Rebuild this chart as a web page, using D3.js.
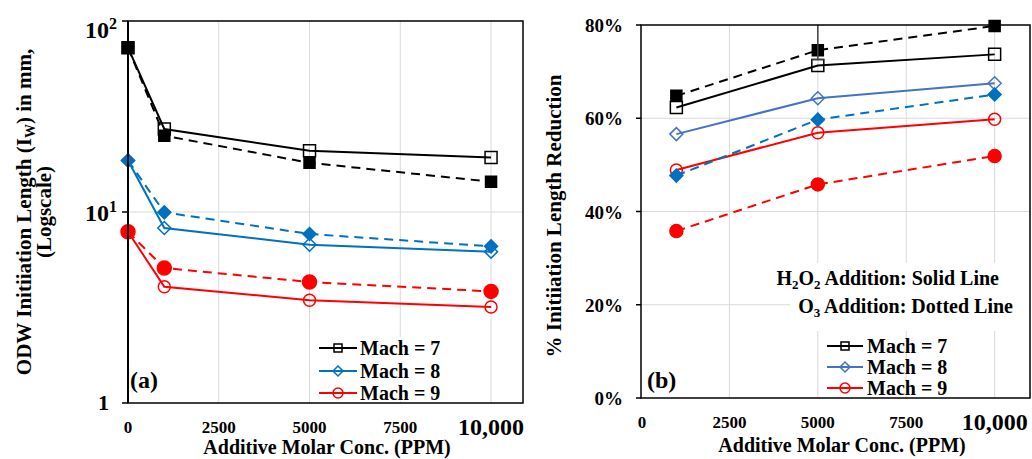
<!DOCTYPE html>
<html>
<head>
<meta charset="utf-8">
<script src="https://cdn.jsdelivr.net/npm/d3@7"></script>
<style>
html,body{margin:0;padding:0;background:#fff;}
svg{display:block;}
text{font-family:"Liberation Serif","Times New Roman",serif;font-weight:bold;fill:#000;}
</style>
</head>
<body>
<svg id="chart" width="1032" height="459"></svg>
<script>
// ---------------- DATA ----------------
const concA = [0, 1000, 5000, 10000];
const m7H2O2 = [72.5, 27.2, 20.9, 19.3];
const m7O3   = [72.5, 25.1, 18.1, 14.4];
const m8H2O2 = [18.6, 8.25, 6.74, 6.2];
const m8O3   = [18.6, 9.96, 7.67, 6.61];
const m9H2O2 = [7.88, 4.06, 3.45, 3.18];
const m9O3   = [7.88, 5.09, 4.30, 3.84];

const concB = [1000, 5000, 10000];
const r7H2O2 = [0.623, 0.713, 0.737];
const r7O3   = [0.648, 0.746, 0.798];
const r8H2O2 = [0.566, 0.643, 0.675];
const r8O3   = [0.477, 0.597, 0.651];
const r9H2O2 = [0.489, 0.569, 0.598];
const r9O3   = [0.358, 0.458, 0.519];
const r7O3ErrLow  = [null, 0.726, null];
const r7O3ErrHigh = [null, 0.86, null];

const xTicks = [0, 2500, 5000, 7500, 10000];
const xTickLabels = ["0", "2500", "5000", "7500", "10,000"];
const yTicksA = [1, 10, 100];
const yTicksB = [0, 0.2, 0.4, 0.6, 0.8];
const yTickLabelsB = ["0%", "20%", "40%", "60%", "80%"];
const legendLabels = ["Mach = 7", "Mach = 8", "Mach = 9"];

// ---------------- SETUP ----------------
const svg = d3.select("#chart");
const BLACK = "#000000", BLUE = "#0070C0", BLUE2 = "#4472C4", RED = "#FF0000", GRID = "#d9d9d9";

const xA = d3.scaleLinear().domain([0, 10880]).range([128, 523]);
const yA = d3.scaleLog().domain([1, 100]).range([403, 21]);
const xB = d3.scaleLinear().domain([0, 11000]).range([641, 1030]);
const yB = d3.scaleLinear().domain([0, 0.8]).range([398, 25]);

function markerPath(type, size) {
  const s = size;
  if (type === "square") return `M${-s/2},${-s/2}h${s}v${s}h${-s}Z`;
  if (type === "diamond") return `M0,${-s/2}L${s/2},0L0,${s/2}L${-s/2},0Z`;
  const p = d3.path(); p.arc(0, 0, s/2, 0, 2*Math.PI); p.closePath(); return p.toString();
}

function drawSeries(g, xs, ys, xScale, yScale, color, dashed, marker, filled, size) {
  const pts = xs.map((x, i) => [xScale(x), yScale(ys[i])]);
  g.append("path")
    .attr("d", d3.line()(pts))
    .attr("fill", "none")
    .attr("stroke", color)
    .attr("stroke-width", 2)
    .attr("stroke-dasharray", dashed ? "9,6" : null);
  g.selectAll(null).data(pts).enter().append("path")
    .attr("transform", d => `translate(${d[0]},${d[1]})`)
    .attr("d", markerPath(marker, size))
    .attr("fill", filled ? color : "none")
    .attr("stroke", color)
    .attr("stroke-width", 1.5);
}

// ================= PANEL A =================
const gA = svg.append("g");
gA.selectAll(null).data(xTicks.filter(d => d > 0)).enter().append("line")
  .attr("x1", d => xA(d)).attr("x2", d => xA(d)).attr("y1", yA(100)).attr("y2", yA(1))
  .attr("stroke", GRID).attr("stroke-width", 1);
gA.append("line").attr("x1", xA(0)).attr("x2", xA.range()[1]).attr("y1", yA(10)).attr("y2", yA(10))
  .attr("stroke", GRID).attr("stroke-width", 1);
gA.append("rect").attr("x", 316).attr("y", 337).attr("width", 128).attr("height", 64).attr("fill", "#fff");

const seriesA = [
  {y: m7H2O2, c: BLACK, d: false, m: "square", f: false, s: 12},
  {y: m8H2O2, c: BLUE, d: false, m: "diamond", f: false, s: 13},
  {y: m9H2O2, c: RED, d: false, m: "circle", f: false, s: 12},
  {y: m7O3, c: BLACK, d: true, m: "square", f: true, s: 11},
  {y: m8O3, c: BLUE, d: true, m: "diamond", f: true, s: 13},
  {y: m9O3, c: RED, d: true, m: "circle", f: true, s: 14},
];
seriesA.forEach(s => drawSeries(gA, concA, s.y, xA, yA, s.c, s.d, s.m, s.f, s.s));

gA.append("rect").attr("x", xA.range()[0]).attr("y", yA(100))
  .attr("width", xA.range()[1] - xA.range()[0]).attr("height", yA(1) - yA(100))
  .attr("fill", "none").attr("stroke", BLACK).attr("stroke-width", 1.5);
gA.append("line").attr("x1", xA(0)).attr("x2", xA(0)).attr("y1", yA(100)).attr("y2", yA(1))
  .attr("stroke", BLACK).attr("stroke-width", 2);

gA.selectAll(null).data(yTicksA).enter().append("line")
  .attr("x1", xA(0) - 6).attr("x2", xA(0)).attr("y1", d => yA(d)).attr("y2", d => yA(d))
  .attr("stroke", BLACK).attr("stroke-width", 1.5);
yTicksA.forEach(v => {
  const e = Math.round(Math.log10(v));
  const yy = yA(v);
  if (e === 0) {
    gA.append("text").attr("x", 109).attr("y", yy + 7).attr("text-anchor", "end")
      .style("font-size", "22px").text("1");
  } else {
    const t = gA.append("text").attr("x", 117).attr("y", e === 2 ? yy + 17 : yy + 9)
      .attr("text-anchor", "end").style("font-size", "24px");
    t.append("tspan").text("10");
    t.append("tspan").attr("dy", -9).style("font-size", "16px").text(String(e));
  }
});

xTicks.forEach((v, i) => {
  const big = v === 10000;
  gA.append("text").attr("x", xA(v)).attr("y", big ? 435 : 433)
    .attr("text-anchor", "middle").style("font-size", big ? "24px" : "17px")
    .text(xTickLabels[i]);
});

gA.append("text").attr("x", 327).attr("y", 454).attr("text-anchor", "middle")
  .style("font-size", "20px").text("Additive Molar Conc. (PPM)");
const ytA = gA.append("text").attr("transform", "translate(31,212) rotate(-90)")
  .attr("text-anchor", "middle").style("font-size", "21px");
ytA.append("tspan").text("ODW Initiiation Length (I");
ytA.append("tspan").attr("dy", 4).style("font-size", "14px").text("W");
ytA.append("tspan").attr("dy", -4).text(") in mm,");
gA.append("text").attr("transform", "translate(51,212) rotate(-90)")
  .attr("text-anchor", "middle").style("font-size", "21px").text("(Logscale)");

gA.append("text").attr("x", 130).attr("y", 388).style("font-size", "24px").text("(a)");

const legA = [{c: BLACK, m: "square", s: 8}, {c: BLUE, m: "diamond", s: 10}, {c: RED, m: "circle", s: 10}];
const legAy = [348, 371, 393];
legA.forEach((l, i) => {
  const y = legAy[i];
  gA.append("line").attr("x1", 319).attr("x2", 357).attr("y1", y).attr("y2", y)
    .attr("stroke", l.c).attr("stroke-width", 2);
  gA.append("path").attr("transform", `translate(338,${y})`).attr("d", markerPath(l.m, l.s))
    .attr("fill", "none").attr("stroke", l.c).attr("stroke-width", 1.5);
  gA.append("text").attr("x", 360).attr("y", y + 7).style("font-size", "20px").text(legendLabels[i]);
});

// ================= PANEL B =================
const gB = svg.append("g");
gB.selectAll(null).data(xTicks.filter(d => d > 0)).enter().append("line")
  .attr("x1", d => xB(d)).attr("x2", d => xB(d)).attr("y1", yB(0.8)).attr("y2", yB(0))
  .attr("stroke", GRID).attr("stroke-width", 1);
gB.selectAll(null).data(yTicksB.filter(d => d > 0 && d < 0.8)).enter().append("line")
  .attr("x1", xB(0)).attr("x2", xB.range()[1]).attr("y1", d => yB(d)).attr("y2", d => yB(d))
  .attr("stroke", GRID).attr("stroke-width", 1);

gB.append("rect").attr("x", 790).attr("y", 263).attr("width", 239).attr("height", 68).attr("fill", "#fff");

svg.append("clipPath").attr("id", "clipB").append("rect")
  .attr("x", xB.range()[0]).attr("y", yB(0.8)).attr("width", xB.range()[1] - xB.range()[0])
  .attr("height", yB(0) - yB(0.8));

const seriesB = [
  {y: r7H2O2, c: BLACK, d: false, m: "square", f: false, s: 12},
  {y: r8H2O2, c: BLUE2, d: false, m: "diamond", f: false, s: 13},
  {y: r9H2O2, c: RED, d: false, m: "circle", f: false, s: 12},
  {y: r7O3, c: BLACK, d: true, m: "square", f: true, s: 11},
  {y: r8O3, c: BLUE, d: true, m: "diamond", f: true, s: 13},
  {y: r9O3, c: RED, d: true, m: "circle", f: true, s: 13},
];
seriesB.forEach(s => drawSeries(gB, concB, s.y, xB, yB, s.c, s.d, s.m, s.f, s.s));

const gErr = gB.append("g").attr("clip-path", "url(#clipB)");
concB.forEach((c, i) => {
  if (r7O3ErrLow[i] == null) return;
  const x = xB(c);
  gErr.append("line").attr("x1", x).attr("x2", x).attr("y1", yB(r7O3ErrLow[i])).attr("y2", yB(r7O3ErrHigh[i]))
    .attr("stroke", "#404040").attr("stroke-width", 1.5);
  gErr.append("line").attr("x1", x - 6).attr("x2", x + 6).attr("y1", yB(r7O3ErrLow[i])).attr("y2", yB(r7O3ErrLow[i]))
    .attr("stroke", "#404040").attr("stroke-width", 1.5);
});

gB.append("rect").attr("x", xB.range()[0]).attr("y", yB(0.8))
  .attr("width", xB.range()[1] - xB.range()[0]).attr("height", yB(0) - yB(0.8))
  .attr("fill", "none").attr("stroke", BLACK).attr("stroke-width", 1.5);

gB.selectAll(null).data(yTicksB).enter().append("line")
  .attr("x1", xB(0) - 5).attr("x2", xB(0)).attr("y1", d => yB(d)).attr("y2", d => yB(d))
  .attr("stroke", BLACK).attr("stroke-width", 1.5);
yTicksB.forEach((v, i) => {
  gB.append("text").attr("x", 623).attr("y", yB(v) + 7).attr("text-anchor", "end")
    .style("font-size", "19px").text(yTickLabelsB[i]);
});
xTicks.forEach((v, i) => {
  const big = v === 10000;
  gB.append("text").attr("x", xB(v) + (v === 0 ? 1 : 0)).attr("y", big ? 430 : 428)
    .attr("text-anchor", "middle").style("font-size", big ? "24px" : "17px")
    .text(xTickLabels[i]);
});

gB.append("text").attr("x", 842).attr("y", 452).attr("text-anchor", "middle")
  .style("font-size", "20px").text("Additive Molar Conc. (PPM)");
gB.append("text").attr("transform", "translate(561,216) rotate(-90)")
  .attr("text-anchor", "middle").style("font-size", "21px").text("% Initiiation Length Reduction");

gB.append("text").attr("x", 647).attr("y", 388).style("font-size", "24px").text("(b)");

const a1 = gB.append("text").attr("x", 999).attr("y", 285).attr("text-anchor", "end").style("font-size", "20px");
a1.append("tspan").text("H");
a1.append("tspan").attr("dy", 4).style("font-size", "13px").text("2");
a1.append("tspan").attr("dy", -4).text("O");
a1.append("tspan").attr("dy", 4).style("font-size", "13px").text("2");
a1.append("tspan").attr("dy", -4).text(" Addition: Solid Line");
const a2 = gB.append("text").attr("x", 1013).attr("y", 313).attr("text-anchor", "end").style("font-size", "20px");
a2.append("tspan").text("O");
a2.append("tspan").attr("dy", 4).style("font-size", "13px").text("3");
a2.append("tspan").attr("dy", -4).text(" Addition: Dotted Line");

const legB = [{c: BLACK, m: "square", s: 8}, {c: BLUE2, m: "diamond", s: 10}, {c: RED, m: "circle", s: 10}];
const legBy = [346, 367, 388];
legB.forEach((l, i) => {
  const y = legBy[i];
  gB.append("line").attr("x1", 827).attr("x2", 863).attr("y1", y).attr("y2", y)
    .attr("stroke", l.c).attr("stroke-width", 2);
  gB.append("path").attr("transform", `translate(845,${y})`).attr("d", markerPath(l.m, l.s))
    .attr("fill", "none").attr("stroke", l.c).attr("stroke-width", 1.5);
  gB.append("text").attr("x", 867).attr("y", y + 7).style("font-size", "20px").text(legendLabels[i]);
});
</script>
</body>
</html>
